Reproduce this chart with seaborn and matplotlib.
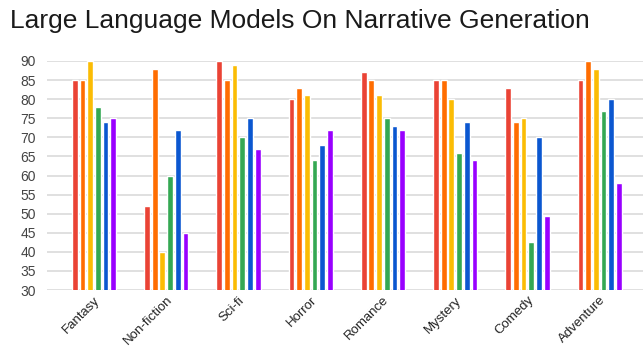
import matplotlib
matplotlib.use("Agg")
import matplotlib.pyplot as plt
import seaborn as sns
import pandas as pd

categories = ["Fantasy", "Non-fiction", "Sci-fi", "Horror", "Romance", "Mystery", "Comedy", "Adventure"]
series_names = ["Model 1", "Model 2", "Model 3", "Model 4", "Model 5", "Model 6"]
model1 = [85, 52, 90, 80, 87, 85, 83, 85]
model2 = [85, 88, 85, 83, 85, 85, 74, 90]
model3 = [90, 40, 89, 81, 81, 80, 75, 88]
model4 = [78, 60, 70, 64, 75, 66, 42.5, 77]
model5 = [74, 72, 75, 68, 73, 74, 70, 80]
model6 = [75, 45, 67, 72, 72, 64, 49.5, 58]
y_ticks = [30, 35, 40, 45, 50, 55, 60, 65, 70, 75, 80, 85, 90]

colors = ["#EA4335", "#FF6D01", "#FBBC04", "#34A853", "#0B57D0", "#9900FF"]

rows = []
for name, vals in zip(series_names, [model1, model2, model3, model4, model5, model6]):
    for c, v in zip(categories, vals):
        rows.append({"category": c, "model": name, "score": v})
df = pd.DataFrame(rows)

sns.set_theme(style="white")
plt.rcParams["font.family"] = ["Liberation Sans", "DejaVu Sans"]

fig = plt.figure(figsize=(6.43, 3.62), dpi=100)
ax = fig.add_axes([47/643, 1 - 290/362, (643-47)/643, (290-61)/362])

sns.barplot(data=df, x="category", y="score", hue="model", order=categories,
            hue_order=series_names, palette=colors, width=0.64, gap=0.25,
            ax=ax, legend=False, saturation=1, bottom=0)

ax.set_ylim(30, 90)
ax.set_xlim(-0.65, 7.6)
ax.set_yticks(y_ticks)
ax.set_yticklabels([str(t) for t in y_ticks], fontsize=10, color="#444444")
ax.yaxis.grid(True, color="#e0e0e0", linewidth=1.4)
ax.set_axisbelow(True)
for s in ax.spines.values():
    s.set_visible(False)
ax.tick_params(axis="both", length=0, pad=3)
ax.tick_params(axis="y", pad=8)
ax.set_xlabel("")
ax.set_ylabel("")
plt.setp(ax.get_xticklabels(), rotation=45, ha="right", rotation_mode="anchor",
         fontsize=9.5, color="#222222")

fig.text(10/643, 1 - 21/362, "Large Language Models On Narrative Generation",
         fontsize=19, color="#1a1a1a", va="center", ha="left")

fig.savefig("out.png", dpi=100)
